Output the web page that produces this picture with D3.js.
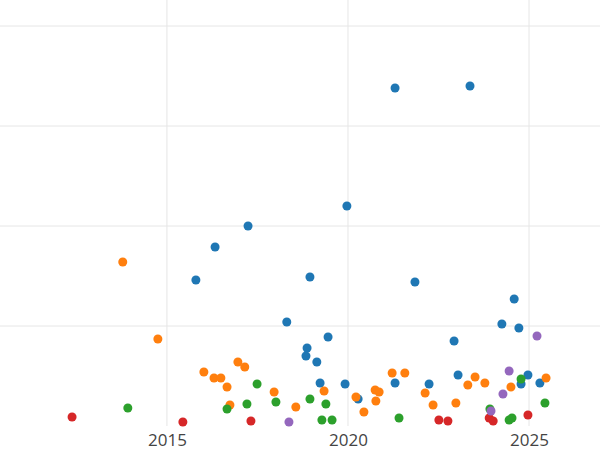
<!DOCTYPE html>
<html><head><meta charset="utf-8">
<script src="https://d3js.org/d3.v7.min.js"></script>
<style>body{margin:0;background:#fff}</style></head>
<body><svg id="c" width="600" height="450"></svg>
<script>
const xTicks=[2015,2020,2025];
const yTicks=[1,2,3,4];
const colors={blue:"#1f77b4",orange:"#ff7f0e",green:"#2ca02c",red:"#d62728",purple:"#9467bd"};
const blueYears=[2021.30,2023.37,2019.97,2017.24,2016.33,2015.80,2018.95,2021.85,2024.59,2018.31,2024.25,2024.72,2019.45,2022.93,2018.87,2018.84,2019.14,2023.04,2024.97,2019.23,2019.92,2021.30,2022.24,2024.78,2025.30,2020.28];
const blueValues=[3.38,3.40,2.20,2.00,1.79,1.46,1.49,1.44,1.27,1.04,1.02,0.98,0.89,0.85,0.78,0.70,0.64,0.51,0.51,0.43,0.42,0.43,0.42,0.42,0.43,0.27];
const orangeYears=[2013.78,2014.75,2016.96,2017.15,2016.02,2016.30,2016.49,2016.66,2017.96,2019.34,2020.75,2020.86,2021.22,2021.57,2023.51,2023.78,2023.31,2024.50,2025.47,2022.13,2020.22,2020.77,2016.74,2018.56,2020.44,2022.35,2022.98];
const orangeValues=[1.64,0.87,0.64,0.59,0.54,0.48,0.48,0.39,0.34,0.35,0.36,0.34,0.53,0.53,0.49,0.43,0.41,0.39,0.48,0.33,0.29,0.25,0.21,0.19,0.14,0.21,0.23];
const greenYears=[2013.92,2017.49,2017.21,2016.66,2018.01,2018.95,2019.39,2019.28,2019.56,2021.41,2023.92,2024.78,2025.44,2024.45,2024.53];
const greenValues=[0.18,0.42,0.22,0.17,0.24,0.27,0.22,0.06,0.06,0.08,0.17,0.47,0.23,0.06,0.08];
const redYears=[2012.38,2015.44,2017.32,2022.51,2022.76,2023.90,2024.01,2024.97];
const redValues=[0.09,0.04,0.05,0.06,0.05,0.08,0.05,0.11];
const purpleYears=[2018.37,2023.95,2024.28,2024.45,2025.22];
const purpleValues=[0.04,0.15,0.32,0.55,0.90];

const series=[["blue",blueYears,blueValues],["orange",orangeYears,orangeValues],["green",greenYears,greenValues],["red",redYears,redValues],["purple",purpleYears,purpleValues]];
const svg=d3.select("#c");
const x=d3.scaleLinear().domain([2010.39,2026.96]).range([0,600]);
const y=d3.scaleLinear().domain([0,4.25]).range([426,1]);
const g=svg.append("g");
g.selectAll(".gx").data(xTicks).join("line").attr("x1",d=>x(d)).attr("x2",d=>x(d)).attr("y1",0).attr("y2",426).attr("stroke","#e6e6e6").attr("stroke-width",1);
g.selectAll(".gy").data(yTicks).join("line").attr("x1",0).attr("x2",600).attr("y1",d=>y(d)).attr("y2",d=>y(d)).attr("stroke","#e6e6e6").attr("stroke-width",1);
const ax=svg.append("g").attr("transform","translate(0,426)").call(d3.axisBottom(x).tickValues(xTicks).tickFormat(d3.format("d")).tickSize(0).tickPadding(8));
ax.select(".domain").remove();
ax.selectAll("text").attr("font-family","'Open Sans',sans-serif").attr("font-size",17).attr("fill","#444");
series.forEach(([c,xs,vs])=>{
  svg.append("g").selectAll("circle").data(xs.map((d,i)=>[d,vs[i]])).join("circle")
   .attr("cx",d=>x(d[0])).attr("cy",d=>y(d[1])).attr("r",4.5).attr("fill",colors[c]);
});
</script></body></html>
